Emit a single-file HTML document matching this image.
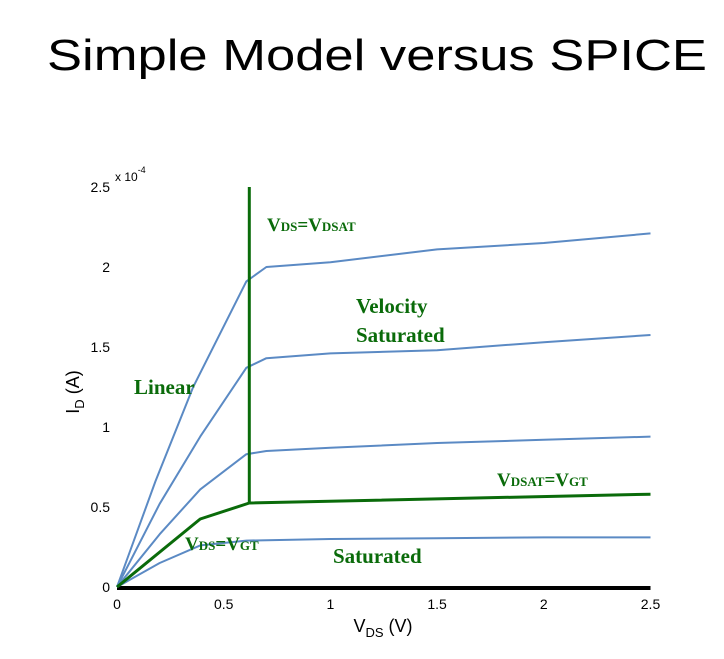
<!DOCTYPE html>
<html><head><meta charset="utf-8"><style>
body{margin:0;background:#fff;}
svg{display:block;}
.t{font-family:"Liberation Sans",sans-serif;font-size:14px;fill:#000;}
.g{font-family:"Liberation Serif",serif;font-weight:bold;fill:#0a6b0a;}
</style></head><body>
<svg id="c" width="724" height="659" viewBox="0 0 724 659">
<text x="47" y="70" textLength="660" lengthAdjust="spacingAndGlyphs" style="font-family:'Liberation Sans',sans-serif;font-size:44px">Simple Model versus SPICE</text>
<g id="ticks"></g>
<g id="series"></g>
<text class="t" x="115" y="181" style="font-size:12px">x 10<tspan dy="-8" font-size="9">-4</tspan></text>
<text class="t" transform="translate(79,392) rotate(-90)" text-anchor="middle" style="font-size:18px">I<tspan dy="5" font-size="13">D</tspan><tspan dy="-5"> (A)</tspan></text>
<text class="t" x="383" y="632" text-anchor="middle" style="font-size:18px">V<tspan dy="5" font-size="13">DS</tspan><tspan dy="-5"> (V)</tspan></text>
<text class="g" x="267" y="231" font-size="19">V<tspan font-size="13">DS</tspan>=V<tspan font-size="13">DSAT</tspan></text>
<text class="g" x="356" y="313" font-size="21">Velocity</text>
<text class="g" x="356" y="342" font-size="21">Saturated</text>
<text class="g" x="134" y="394" font-size="21">Linear</text>
<text class="g" x="497" y="486" font-size="19">V<tspan font-size="13">DSAT</tspan>=V<tspan font-size="13">GT</tspan></text>
<text class="g" x="185" y="550" font-size="19">V<tspan font-size="13">DS</tspan>=V<tspan font-size="13">GT</tspan></text>
<text class="g" x="333" y="563" font-size="21">Saturated</text>
</svg>
<script>
const xTicks=[0,0.5,1,1.5,2,2.5];
const yTicks=[0,0.5,1,1.5,2,2.5];
const vds1=[0,0.18,0.357,0.606,0.70,1.0,1.5,2.0,2.5];
const id1=[0,0.66,1.25,1.91,2.0,2.03,2.11,2.15,2.21];
const vds2=[0,0.2,0.39,0.606,0.70,1.0,1.5,2.0,2.5];
const id2=[0,0.52,0.94,1.37,1.43,1.46,1.48,1.53,1.575];
const vds3=[0,0.2,0.39,0.606,0.70,1.0,1.5,2.0,2.5];
const id3=[0,0.33,0.61,0.83,0.85,0.87,0.90,0.92,0.94];
const vds4=[0,0.2,0.39,0.606,1.0,1.5,2.0,2.5];
const id4=[0,0.15,0.26,0.29,0.30,0.305,0.31,0.31];
const vdsG=[0,0.39,0.62,2.5];
const idG=[0,0.425,0.525,0.58];
const vdsatX=0.62, vdsatTop=2.5;
const X=v=>117+v*213.4, Y=v=>587-v*160;
const NS='http://www.w3.org/2000/svg';
const tg=document.getElementById('ticks'), sg=document.getElementById('series');
xTicks.forEach(v=>{const t=document.createElementNS(NS,'text');


t.setAttribute('class','t');t.setAttribute('x',X(v));t.setAttribute('y',609);t.setAttribute('text-anchor','middle');t.textContent=v;tg.appendChild(t);});
yTicks.forEach(v=>{const t=document.createElementNS(NS,'text');


t.setAttribute('class','t');t.setAttribute('x',110);t.setAttribute('y',Y(v)+5);t.setAttribute('text-anchor','end');t.textContent=v;tg.appendChild(t);});
const ax=document.createElementNS(NS,'line');


ax.setAttribute('x1',X(0));ax.setAttribute('x2',X(2.5));ax.setAttribute('y1',Y(0)+1);ax.setAttribute('y2',Y(0)+1);ax.setAttribute('stroke','#000');ax.setAttribute('stroke-width','4');tg.appendChild(ax);
function line(xs,ys,col,w,name){const p=document.createElementNS(NS,'polyline');


p.setAttribute('points',xs.map((x,i)=>X(x)+','+Y(ys[i])).join(' '));p.setAttribute('fill','none');p.setAttribute('stroke',col);p.setAttribute('stroke-width',w);p.setAttribute('stroke-linejoin','round');sg.appendChild(p);}
line(vds1,id1,'#5b8ac4',2,'curve-1');
line(vds2,id2,'#5b8ac4',2,'curve-2');
line(vds3,id3,'#5b8ac4',2,'curve-3');
line(vds4,id4,'#5b8ac4',2,'curve-4');
line([vdsatX,vdsatX],[idG[2],vdsatTop],'#0a6b0a',3,'vdsat-boundary');
line(vdsG,idG,'#0a6b0a',3,'vdsat-vgt-curve');
</script>
</body></html>
